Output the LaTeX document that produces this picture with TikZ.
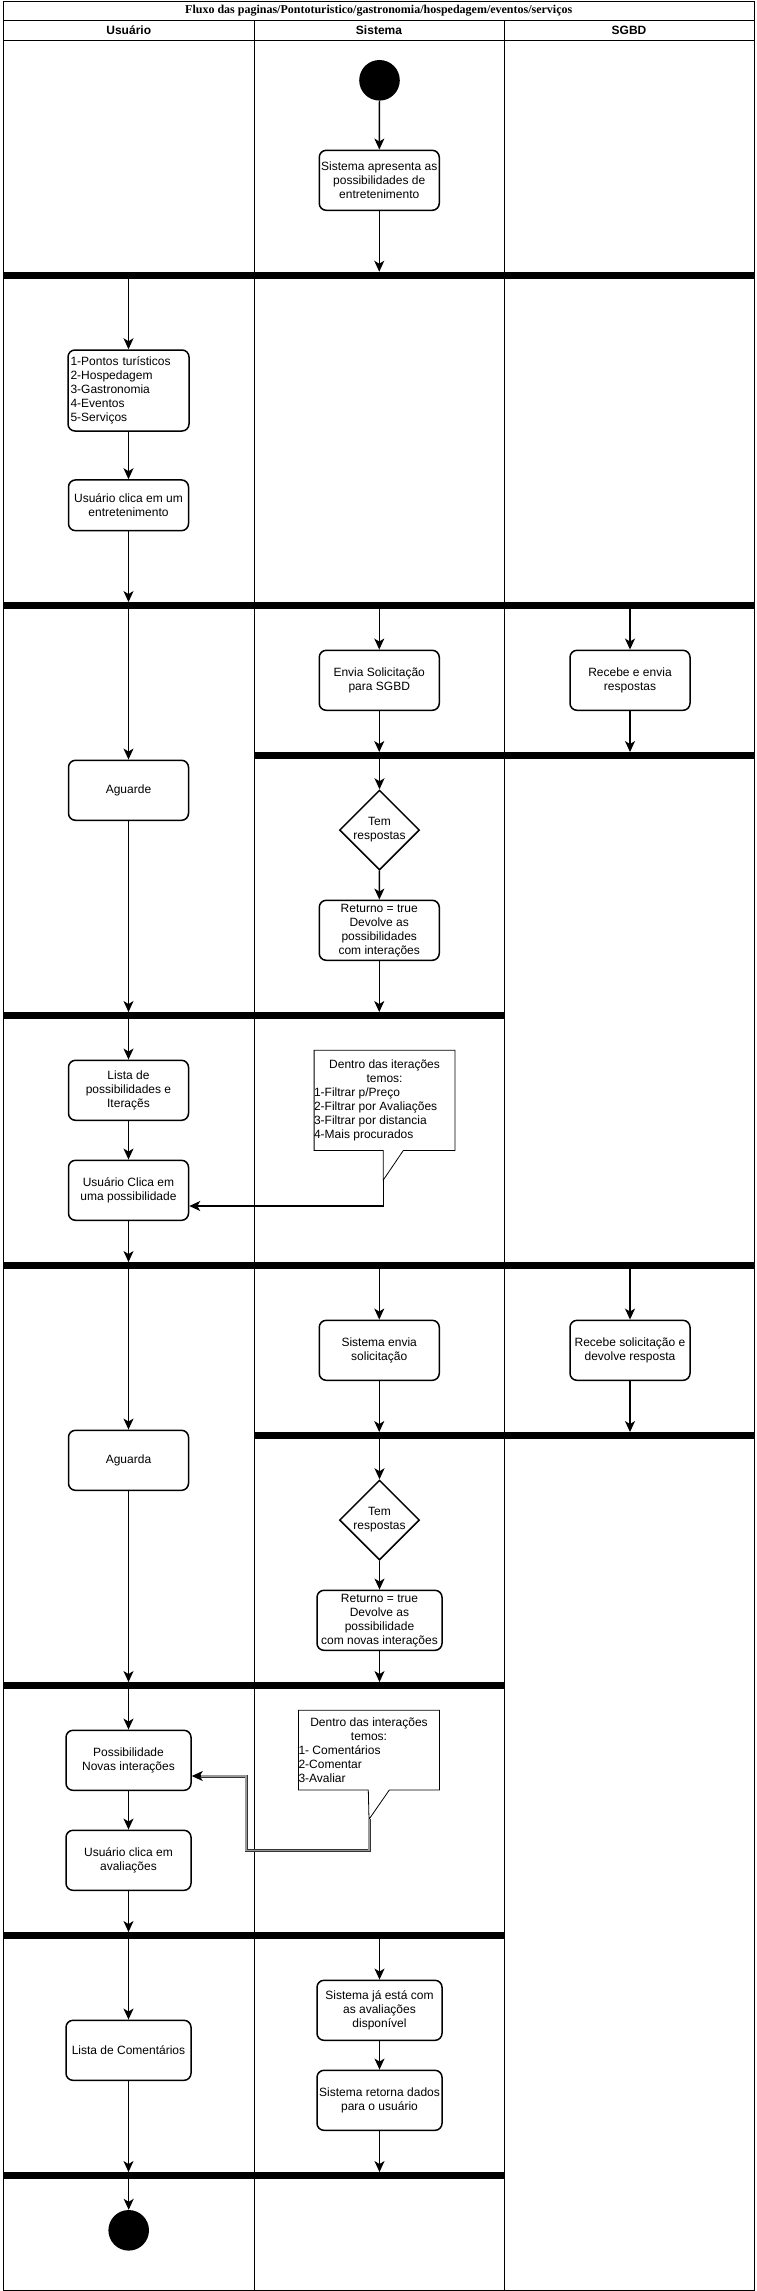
\documentclass[tikz,border=0pt]{standalone}
\usepackage{fontspec}
\setmainfont{Liberation Sans}
\newfontfamily\titlefont{Liberation Serif}
\usetikzlibrary{arrows.meta,shapes.geometric,calc}
\begin{document}
\begin{tikzpicture}[x=1pt,y=-1pt,
  lane/.style={line width=0.9pt},
  bar/.style={fill=black, draw=none, inner sep=0pt, minimum height=6.7pt},
  act/.style={draw, rounded corners=7pt, line width=1.5pt, minimum width=120pt, minimum height=60pt, align=center, inner sep=1pt, font=\fontsize{12}{14}\selectfont},
  dia/.style={draw, diamond, line width=1.5pt, minimum width=80pt, minimum height=80pt, inner sep=0pt},
  dot/.style={circle, fill=black, minimum size=40.6pt, inner sep=0pt},
  arr/.style={-{Stealth[length=11pt,width=10pt,inset=3pt]}, line width=1.4pt},
  notebox/.style={inner sep=0pt, font=\fontsize{12}{14}\selectfont},
  noteline/.style={line width=0.8pt, fill=white},
  dbl/.style={line width=0.9pt, draw=black!80, double=black!40, double distance=1.2pt},
  hdr/.style={font=\bfseries\fontsize{12}{14}\selectfont},
  txt/.style={font=\fontsize{12}{14}\selectfont, align=center},
]
\useasboundingbox (0,0) rectangle (757,2291);
\fill[white] (0,0) rectangle (757,2291);
% frame and lanes
\draw[lane] (3.5,1) rectangle (754,2290);
\draw[lane] (3.5,20.5) -- (754,20.5);
\draw[lane] (3.5,40.5) -- (754,40.5);
\draw[lane] (254,20.5) -- (254,2290);
\draw[lane] (504,20.5) -- (504,2290);
\node[font=\titlefont\bfseries\fontsize{12}{14}\selectfont] (title) at (378.75,11) {Fluxo das paginas/Pontoturistico/gastronomia/hospedagem/eventos/serviços};
\node[hdr] (hU) at (128.75,30.5) {Usuário};
\node[hdr] (hS) at (379,30.5) {Sistema};
\node[hdr] (hD) at (629,30.5) {SGBD};

% bars
\node[bar, minimum width=750.5pt] (b1) at (378.75,275.3) {};
\node[bar, minimum width=750.5pt] (b2) at (378.75,605.6) {};
\node[bar, minimum width=500pt] (b3) at (504,755.6) {};
\node[bar, minimum width=500.5pt] (b4) at (253.75,1015.6) {};
\node[bar, minimum width=750.5pt] (b5) at (378.75,1265.6) {};
\node[bar, minimum width=500pt] (b6) at (504,1435.6) {};
\node[bar, minimum width=500.5pt] (b7) at (253.75,1685.6) {};
\node[bar, minimum width=500.5pt] (b8) at (253.75,1935.6) {};
\node[bar, minimum width=500.5pt] (b9) at (253.75,2175.6) {};

% nodes
\node[dot] (start) at (379.5,80.3) {};
\node[act] (s1) at (379.25,180.3) {Sistema apresenta as\\possibilidades de\\entretenimento};
\node[act, minimum width=121pt, minimum height=81pt, align=left, text width=116pt, inner xsep=2.5pt] (u1) at (128.5,390.5) {1-Pontos turísticos\\2-Hospedagem\\3-Gastronomia\\4-Eventos\\5-Serviços};
\node[act, minimum height=50.7pt] (u2) at (128.5,505.3) {Usuário clica em um\\entretenimento};
\node[act] (s2) at (379.25,680.3) {Envia Solicitação\\para SGBD};
\node[act] (d1) at (630,680.3) {Recebe e envia\\respostas};
\node[act] (u3) at (128.5,790.3) {Aguarde};
\node[dia, label={[txt]center:Tem\\respostas}] (q1) at (379.5,830) {};
\node[act] (s3) at (379.25,930.3) {Returno = true\\Devolve as\\possibilidades\\com interações};
\node[act] (u4) at (128.5,1090.3) {Lista de\\possibilidades e\\Iteraçẽs};
\node[act] (u5) at (128.5,1190.3) {Usuário Clica em\\uma possibilidade};
\node[act] (s4) at (379.25,1350.3) {Sistema envia\\solicitação};
\node[act] (d2) at (630,1350.3) {Recebe solicitação e\\devolve resposta};
\node[act] (u6) at (128.5,1460.3) {Aguarda};
\node[dia, label={[txt]center:Tem\\respostas}] (q2) at (379.5,1520) {};
\node[act, minimum width=125pt] (s5) at (379.5,1620.3) {Returno = true\\Devolve as\\possibilidade\\com novas interações};
\node[act, minimum width=125pt] (u7) at (128.5,1760.3) {Possibilidade\\Novas interações};
\node[act, minimum width=125pt] (u8) at (128.5,1860.3) {Usuário clica em\\avaliações};
\node[act, minimum width=125pt] (s6) at (379.5,2010.3) {Sistema já está com\\as avaliações\\disponível};
\node[act, minimum width=125pt] (s7) at (379.5,2100.3) {Sistema retorna dados\\para o usuário};
\node[act, minimum width=125pt] (u9) at (128.5,2050.3) {Lista de Comentários};
\node[dot] (end) at (128.7,2230.3) {};

% callout notes
\coordinate (n1nw) at (314.1,1050.3);
\coordinate (n1se) at (455,1150.5);
\coordinate (n1l) at (383.3,1150.5);
\coordinate (n1tip) at (383.3,1180);
\coordinate (n1r) at (403.3,1150.5);
\draw[noteline] (n1l) -- (n1tip) -- (n1r) -- (n1se) -- (n1se |- n1nw) -- (n1nw) -- (n1nw |- n1se) -- cycle;
\node[notebox] (n1) at (384.55,1100.4) {\parbox{141pt}{\centering Dentro das iterações\\temos:\par\raggedright 1-Filtrar p/Preço\\2-Filtrar por Avaliações\\3-Filtrar por distancia\\4-Mais procurados\par}};

\coordinate (n2nw) at (298.5,1710.3);
\coordinate (n2se) at (439.5,1790);
\coordinate (n2l) at (368.3,1790);
\coordinate (n2tip) at (369,1819.3);
\coordinate (n2r) at (389.3,1790);
\draw[noteline] (n2l) -- (n2tip) -- (n2r) -- (n2se) -- (n2se |- n2nw) -- (n2nw) -- (n2nw |- n2se) -- cycle;
\node[notebox] (n2) at (369,1750.15) {\parbox{141pt}{\centering Dentro das interações\\temos:\par\raggedright 1- Comentários\\2-Comentar\\3-Avaliar\par}};

% connectors
\draw[arr] (start) -- (s1);
\draw[arr] (s1) -- (s1 |- b1.north);
\draw[arr] (u1 |- b1.south) -- (u1);
\draw[arr] (u1) -- (u2);
\draw[arr] (u2) -- (u2 |- b2.north);
\draw[arr] (u3 |- b2.south) -- (u3);
\draw[arr] (s2 |- b2.south) -- (s2);
\draw[arr] (d1 |- b2.south) -- (d1);
\draw[arr] (s2) -- (s2 |- b3.north);
\draw[arr] (d1) -- (d1 |- b3.north);
\draw[arr] (q1 |- b3.south) -- (q1);
\draw[arr] (q1) -- (s3);
\draw[arr] (s3) -- (s3 |- b4.north);
\draw[arr] (u3) -- (u3 |- b4.north);
\draw[arr] (u4 |- b4.south) -- (u4);
\draw[arr] (u4) -- (u5);
\coordinate (k1) at (383.3,1206);
\draw[arr] (n1tip) -- (k1) -- (k1 -| u5.east);
\draw[arr] (u5) -- (u5 |- b5.north);
\draw[arr] (u6 |- b5.south) -- (u6);
\draw[arr] (s4 |- b5.south) -- (s4);
\draw[arr] (d2 |- b5.south) -- (d2);
\draw[arr] (s4) -- (s4 |- b6.north);
\draw[arr] (d2) -- (d2 |- b6.north);
\draw[arr] (q2 |- b6.south) -- (q2);
\draw[arr] (q2) -- (s5);
\draw[arr] (s5) -- (s5 |- b7.north);
\draw[arr] (u6) -- (u6 |- b7.north);
\draw[arr] (u7 |- b7.south) -- (u7);
\draw[arr] (u7) -- (u8);
\coordinate (k2) at (369,1850.7);
\coordinate (k3) at (246,1850.7);
\coordinate (k4) at (246,1776);
\coordinate (k5) at (201,1776);
\draw[dbl] (n2tip) -- (k2) -- (k3) -- (k4) -- (k5);
\draw[arr] (k5) -- (k5 -| u7.east);
\draw[arr] (u8) -- (u8 |- b8.north);
\draw[arr] (u9 |- b8.south) -- (u9);
\draw[arr] (s6 |- b8.south) -- (s6);
\draw[arr] (s6) -- (s7);
\draw[arr] (s7) -- (s7 |- b9.north);
\draw[arr] (u9) -- (u9 |- b9.north);
\draw[arr] (end |- b9.south) -- (end);
\end{tikzpicture}
\end{document}
